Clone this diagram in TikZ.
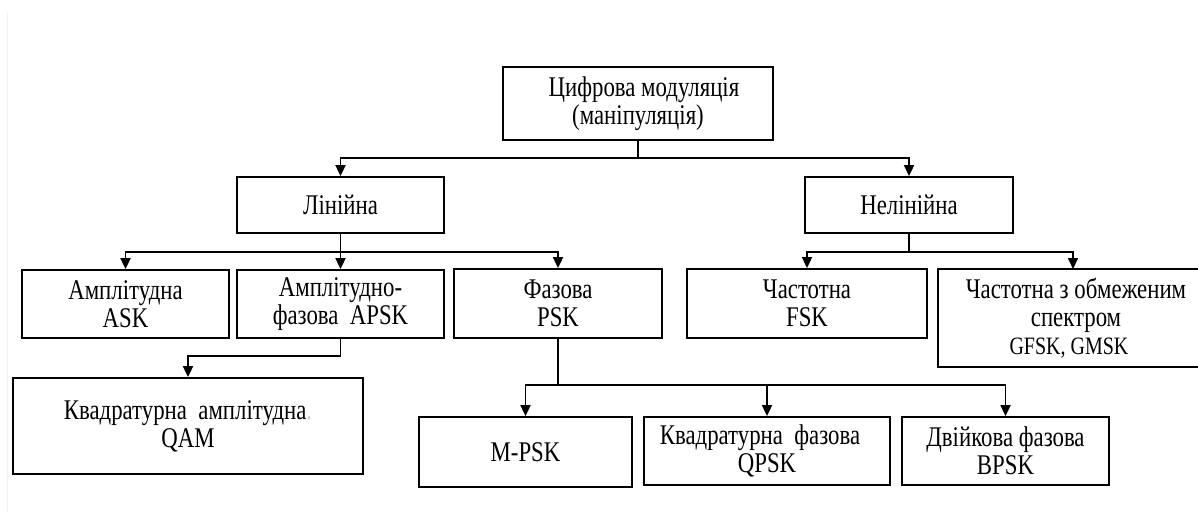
\documentclass[tikz,border=0pt]{standalone}
\usepackage{fontspec}
\setmainfont{Liberation Serif}
% tall, narrow cut of the serif face used for all labels
\newfontfamily\boxfont[FakeStretch=0.8]{Liberation Serif}
\usetikzlibrary{arrows.meta}

\begin{document}
\begin{tikzpicture}[x=1pt,y=-1pt,
  box/.style={draw=black, line width=1.8pt, rectangle, inner sep=0pt,
    align=center, font=\boxfont\fontsize{28.5}{28}\selectfont},
  link/.style={draw=black, line width=1.8pt},
  arr/.style={link, -{Triangle[length=11pt,width=10pt]}}
]
\useasboundingbox (0,0) rectangle (1198,512);

% faint page edge on the left
\draw[gray!10, line width=1pt] (7,12) -- (7,512);

% --- boxes ---------------------------------------------------------------
\node[box, minimum width=270pt, minimum height=73pt] (top) at (638,103.5)
  {\hspace*{12pt}Цифрова модуляція\\(маніпуляція)};

\node[box, minimum width=207pt, minimum height=56pt] (lin) at (340.5,205) {Лінійна};
\node[box, minimum width=208pt, minimum height=56pt] (nonlin) at (909,205) {Нелінійна};

\node[box, minimum width=207pt, minimum height=68pt] (ask) at (125.5,304)
  {Амплітудна\\ASK};
\node[box, minimum width=207pt, minimum height=68pt] (apsk) at (340.5,304)
  {Амплітудно-\\фазова\ \ APSK};
\node[box, minimum width=208pt, minimum height=69pt] (psk) at (558,303.5)
  {Фазова\\PSK};
\node[box, minimum width=240pt, minimum height=69pt] (fsk) at (807,303.5)
  {Частотна\\FSK};
\node[box, minimum width=262pt, minimum height=98pt] (gfsk) at (1069,318)
  {\hspace*{14pt}Частотна з обмеженим\\\hspace*{14pt}спектром\\
   {\fontsize{25}{28}\selectfont GFSK, GMSK}};

\node[box, minimum width=350pt, minimum height=96pt] (qam) at (188,426)
  {Квадратурна\ \ амплітудна{\color{gray!40}.}\\QAM};

\node[box, minimum width=213pt, minimum height=70pt] (mpsk) at (525.5,452) {M-PSK};
\node[box, minimum width=246pt, minimum height=68pt] (qpsk) at (767,451)
  {\hspace*{-14pt}Квадратурна\ \ фазова\\QPSK};
\node[box, minimum width=207pt, minimum height=68pt] (bpsk) at (1005.5,451)
  {Двійкова фазова\\BPSK};

% --- connectors ----------------------------------------------------------
\coordinate (j0) at (638,158);
\draw[link] (top.south) -- (j0);
\draw[arr] (j0) -| (lin.north);
\draw[arr] (j0) -| (nonlin.north);

\coordinate (j1) at (340.5,252);
\draw[link] (lin.south) -- (j1);
\draw[arr] (j1) -| (ask.north);
\draw[arr] (j1) -- (apsk.north);
\draw[arr] (j1) -| (psk.north);

\coordinate (j2) at (909,252);
\coordinate (gin) at (1073,269);
\draw[link] (nonlin.south) -- (j2);
\draw[arr] (j2) -| (fsk.north);
\draw[arr] (j2) -| (gin);

\coordinate (j3) at (340.5,356);
\draw[link] (apsk.south) -- (j3);
\draw[arr] (j3) -| (qam.north);

\coordinate (j4) at (558,385);
\draw[link] (psk.south) -- (j4);
\draw[arr] (j4) -| (mpsk.north);
\draw[arr] (j4) -| (qpsk.north);
\draw[arr] (j4) -| (bpsk.north);
\end{tikzpicture}
\end{document}
